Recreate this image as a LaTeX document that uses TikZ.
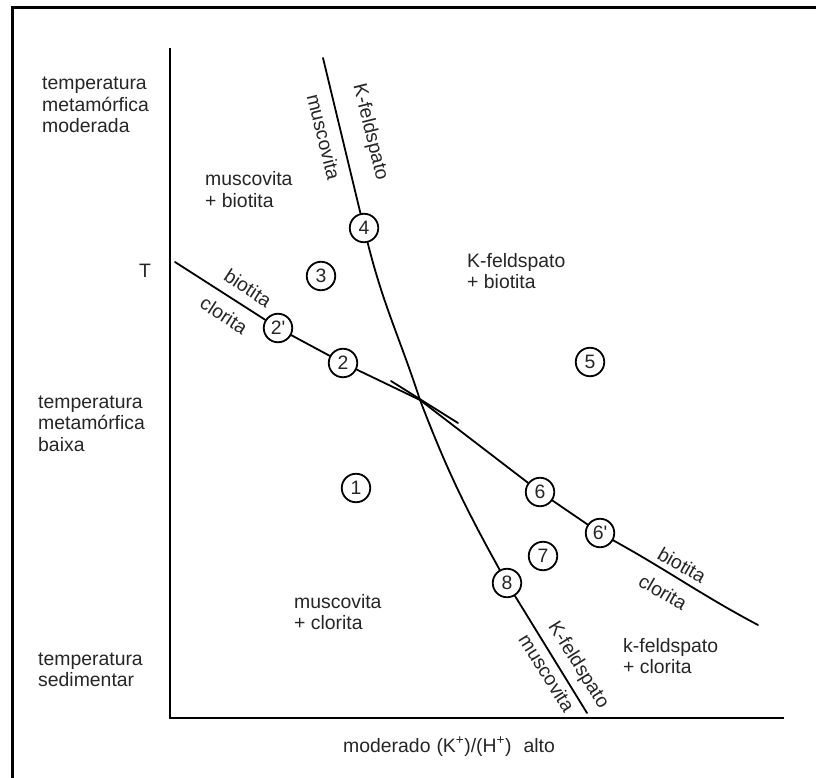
\documentclass[tikz,border=0pt]{standalone}
\usepackage{fontspec}
\setmainfont{Liberation Sans}
\begin{document}
\begin{tikzpicture}[x=1pt,y=-1pt,
  lbl/.style={font=\fontsize{19.4}{21.5}\selectfont, inner sep=0pt, text=black!85, align=left, anchor=base west},
  rlbl/.style={font=\fontsize{19.4}{21.5}\selectfont, inner sep=0pt, text=black!85},
  num/.style={circle, draw, line width=1.8pt, minimum size=28.5pt, inner sep=0pt, fill=white, font=\fontsize{19.4}{21}\selectfont, text=black!85},
  curve/.style={line width=1.8pt, line cap=round},
  axis/.style={line width=2.6pt},
  frame/.style={line width=3pt}
]
\useasboundingbox (0,0) rectangle (816,778);
\fill[white] (0,0) rectangle (816,778);
% frame
\coordinate (fbl) at (12,790);
\coordinate (ftl) at (12,8);
\coordinate (ftr) at (830,8);
\draw[frame] (fbl) -- (ftl) -- (ftr);
% axes
\coordinate (ytop) at (170,48);
\coordinate (orig) at (170,718);
\coordinate (xend) at (784,718);
\draw[axis] (ytop) -- (orig) -- (xend);

% key coordinates
\coordinate (mtop) at (323,58);
\coordinate (X) at (420,400);
\coordinate (mbot) at (587,713);
\coordinate (btop) at (175,262);
\coordinate (bend) at (758,625);
\coordinate (sa) at (391,381);
\coordinate (sb) at (458,423);

% circles
\node[num] (n4) at (364,228) {4};
\node[num] (n3) at (321,276) {3};
\node[num] (n2p) at (278,328) {2\textquotesingle};
\node[num] (n2) at (343,363) {2};
\node[num] (n5) at (590,362) {5};
\node[num] (n1) at (356,488) {1};
\node[num] (n6) at (540,492) {6};
\node[num] (n6p) at (600,533) {6\textquotesingle};
\node[num] (n7) at (543,556) {7};
\node[num] (n8) at (507,583) {8};

% muscovita / K-feldspato line
\draw[curve] (mtop) -- (n4);
\draw[curve] (n4) to[out=-76,in=108] (X);
\draw[curve] (X) to[out=-69,in=119] (n8);
\draw[curve] (n8) -- (mbot);
% biotita / clorita line
\draw[curve] (btop) -- (n2p);
\draw[curve] (n2p) -- (n2);
\draw[curve] (n2) -- (X);
\draw[curve] (X) -- (n6);
\draw[curve] (n6) -- (n6p);
\draw[curve] (n6p) to[out=-29,in=152] (bend);
\draw[curve] (sa) -- (sb);

% region labels (anchor at baseline of last line)
\node[lbl] (tmod) at (42,133) {temperatura\\metamórfica\\moderada};
\node[lbl] (tbai) at (38,451) {temperatura\\metamórfica\\baixa};
\node[lbl] (tsed) at (38,686.5) {temperatura\\sedimentar};
\node[lbl] (T) at (139,277) {T};
\node[lbl] (mb) at (205,207.5) {muscovita\\+ biotita};
\node[lbl] (kb) at (467,288.5) {K-feldspato\\+ biotita};
\node[lbl] (mc) at (294,629.5) {muscovita\\+ clorita};
\node[lbl] (kc) at (623,673.5) {k-feldspato\\+ clorita};
\node[lbl] (xlab) at (343,752) {moderado\hspace{6pt}(K\textsuperscript{+})/(H\textsuperscript{+})\hspace{12pt}alto};

% rotated line labels
\node[rlbl, rotate=-76] (lk1) at (370,132) {K-feldspato};
\node[rlbl, rotate=-76] (lm1) at (324,137) {muscovita};
\node[rlbl, rotate=-33] (lb1) at (248,288) {biotita};
\node[rlbl, rotate=-33] (lc1) at (224,315) {clorita};
\node[rlbl, rotate=-30] (lb2) at (682,565) {biotita};
\node[rlbl, rotate=-30] (lc2) at (663,592) {clorita};
\node[rlbl, rotate=-58] (lk2) at (578,665) {K-feldspato};
\node[rlbl, rotate=-58] (lm2) at (547,673) {muscovita};
\end{tikzpicture}
\end{document}
